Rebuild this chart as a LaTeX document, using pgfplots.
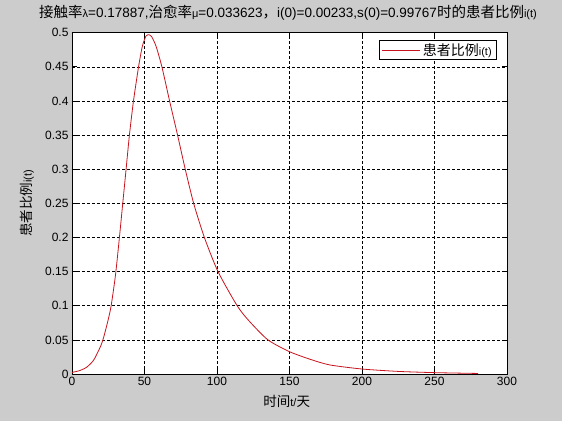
\documentclass[border=0pt]{standalone}
\usepackage{pgfplots}
\pgfplotsset{compat=1.18}
\usepackage{fontspec}
\setmainfont{Liberation Sans}
\newfontfamily\cjk{Noto Sans CJK SC}
\definecolor{figgray}{RGB}{204,204,204}
\definecolor{curvered}{RGB}{200,20,30}
\begin{document}
\begin{tikzpicture}[x=1pt,y=1pt]
\path[use as bounding box] (0,0) rectangle (584,421);
\fill[figgray] (0,0) rectangle (562,421);
\begin{axis}[
  at={(72pt,47pt)}, anchor=south west,
  scale only axis, width=435pt, height=341.3pt,
  xmin=0, xmax=300, ymin=0, ymax=0.5,
  xtick={0,50,...,300},
  ytick={0,0.05,0.1,0.15,0.2,0.25,0.3,0.35,0.4,0.45,0.5},
  yticklabels={0,0.05,0.1,0.15,0.2,0.25,0.3,0.35,0.4,0.45,0.5},
  /pgf/number format/assume math mode=true,
  tick label style={font=\fontsize{12}{14}\selectfont},
  tick align=inside, major tick length=5pt,
  tick style={black, line width=0.7pt},
  axis line style={black, line width=0.8pt},
  axis background/.style={fill=white},
  grid=major,
  major grid style={black, line width=0.6pt, dash pattern=on 3pt off 2pt},
  title={{\cjk\fontsize{14.5}{16}\selectfont 接触率}{\fontsize{11}{11}\selectfont λ}=0.17887,{\cjk\fontsize{14.5}{16}\selectfont 治愈率}{\fontsize{11}{11}\selectfont μ}=0.033623{\cjk\fontsize{14.5}{16}\selectfont ，}i(0)=0.00233,s(0)=0.99767{\cjk\fontsize{14.5}{16}\selectfont 时的患者比例}{\fontsize{11}{11}\selectfont i(t)}},
  title style={at={(0.4966,1.04)}, anchor=center, font=\fontsize{13.5}{15}\selectfont},
  xlabel={{\cjk 时间}{\fontsize{11}{11}\selectfont t/}{\cjk 天}},
  ylabel={{\cjk 患者比例}{\fontsize{11}{11}\selectfont i(t)}},
  every axis x label/.style={at={(0.4936,-0.0806)}, anchor=center, font=\fontsize{13.5}{15}\selectfont},
  every axis y label/.style={at={(-0.1034,0.5)}, anchor=center, rotate=90, font=\fontsize{13.5}{15}\selectfont},
  legend style={at={(0.977,0.9786)}, anchor=north east, draw=black, fill=white, line width=0.6pt,
    font=\fontsize{14}{16}\selectfont, inner xsep=3pt, inner ysep=1pt},
  legend image code/.code={\draw[#1] (0pt,0pt) -- (38pt,0pt);},
  legend cell align=left,
]
\addplot[curvered, line width=0.8pt, smooth, tension=0.4] coordinates {
(0,0.00233) (5,0.0048) (10,0.0098) (15,0.0205) (20,0.042) (22,0.055)
(25,0.080) (27,0.10) (30,0.145) (32.7,0.20) (35,0.25) (37.3,0.30)
(39.6,0.35) (42.4,0.40) (45.9,0.45) (48.5,0.48) (51,0.495) (53,0.497)
(55,0.494) (58,0.48) (62,0.45) (67.3,0.40) (72.8,0.35) (78.1,0.30)
(83.9,0.25) (91.3,0.20) (100.7,0.15) (113.9,0.10) (122,0.078) (135.1,0.05)
(150,0.0327) (165,0.021) (178,0.0132) (200,0.0073) (225,0.0038)
(250,0.002) (280,0.0008)
};
\addlegendentry{{\cjk 患者比例}{\fontsize{11}{11}\selectfont i(t)}}
\end{axis}
\end{tikzpicture}
\end{document}
